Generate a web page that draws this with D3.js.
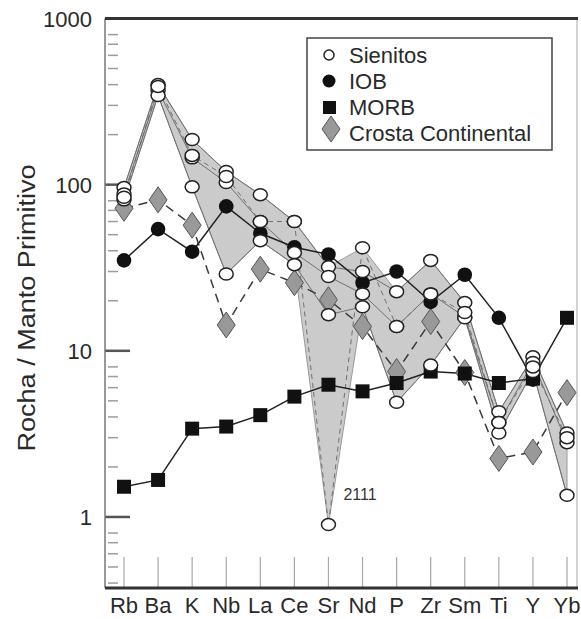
<!DOCTYPE html>
<html>
<head>
<meta charset="utf-8">
<script src="https://cdn.jsdelivr.net/npm/d3@7/dist/d3.min.js"></script>
<style>
    body { margin: 0; background: #fff; }
    svg { display: block; font-family: "Liberation Sans", Arial, sans-serif; }
</style>
</head>
<body>
<div class="spider"></div>
<script>
// ----- DATA ------------------------------------------------------------
const elements = ["Rb", "Ba", "K", "Nb", "La", "Ce", "Sr", "Nd", "P", "Zr", "Sm", "Ti", "Y", "Yb"];

// sienito samples (open circles, grey envelope)
const sienitoA    = [96, 400, 187, 120, 87, 60, 32, 30, 22.7, 35, 19.5, 4.3, 9.2, 3.2];
const sienitoB    = [88, 370, 145, 103, 60, 39, 28, 22, 14, 22, 16, 3.7, 8.5, 2.8];
const sienitoC    = [81, 344, 97, 29, 46, 33, 16.5, 18.4, 4.9, 8.2, 15.8, 3.2, 7.5, 1.35];
const sienito2111 = [84, 390, 150, 112, 60, 60, 0.9, 41.7, 14, 22, 17, 3.7, 8, 3];

const iob    = [35, 54, 39.5, 74, 51, 42, 38, 25.7, 30, 19.7, 28.7, 15.8, 6.7, null];
const morb   = [1.52, 1.67, 3.4, 3.5, 4.1, 5.3, 6.25, 5.7, 6.4, 7.5, 7.3, 6.4, 6.8, 15.8];
const crosta = [72, 81, 57, 14.3, 31, 25.7, 20.3, 14, 7.5, 15, 7.4, 2.25, 2.46, 5.6];

const yTickValues = [1, 10, 100, 1000];
const yMinorValues = [0.4, 0.5, 0.6, 0.7, 0.8,
                      2, 3, 4, 5, 6, 7, 8,
                      20, 30, 40, 50, 60, 70, 80,
                      200, 300, 400, 500, 600, 700, 800];

const legendItems = ["Sienitos", "IOB", "MORB", "Crosta Continental"];

// ----- CHART -----------------------------------------------------------
function drawSpider()
{
    const width = 581, height = 619;
    const plot = { left: 105, right: 577, top: 18.5, bottom: 588 };

    const svg = d3.select(".spider").append("svg")
        .attr("width", width)
        .attr("height", height);

    const x = d3.scalePoint()
        .domain(elements)
        .range([124, 567]);

    const y = d3.scaleLog()
        .domain([0.3736, 1000])
        .range([plot.bottom, plot.top]);

    const samples = [sienitoA, sienitoB, sienitoC, sienito2111];

    // envelope of sienitos
    const envelope = elements.map((e, i) => ({
        name: e,
        lo: d3.min(samples, s => s[i]),
        hi: d3.max(samples, s => s[i])
    }));

    svg.append("path")
        .datum(envelope)
        .attr("fill", "#cbcbcb")
        .attr("stroke", "#9a9a9a")
        .attr("stroke-width", 1)
        .attr("d", d3.area()
            .x(d => x(d.name))
            .y0(d => y(d.lo))
            .y1(d => y(d.hi)));

    // category tick lines at the bottom
    svg.append("g")
        .selectAll("line")
        .data(elements)
        .enter()
            .append("line")
            .attr("x1", d => x(d))
            .attr("x2", d => x(d))
            .attr("y1", plot.bottom - 31)
            .attr("y2", plot.bottom)
            .attr("stroke", "#a8a8a8")
            .attr("stroke-width", 1.2);

    // y minor + major ticks
    svg.append("g")
        .selectAll("line")
        .data(yMinorValues)
        .enter()
            .append("line")
            .attr("x1", plot.left + 3)
            .attr("x2", plot.left + 13)
            .attr("y1", d => y(d))
            .attr("y2", d => y(d))
            .attr("stroke", "#9c9c9c")
            .attr("stroke-width", 1.5);

    svg.append("g")
        .selectAll("line")
        .data(yTickValues)
        .enter()
            .append("line")
            .attr("x1", plot.left)
            .attr("x2", plot.left + 25)
            .attr("y1", d => y(d))
            .attr("y2", d => y(d))
            .attr("stroke", "#555")
            .attr("stroke-width", 2.5);

    svg.append("g")
        .selectAll("text")
        .data(yTickValues)
        .enter()
            .append("text")
            .attr("x", 92)
            .attr("y", d => y(d) + 8)
            .attr("text-anchor", "end")
            .attr("font-size", 22)
            .attr("fill", "#2a2a2a")
            .text(d => d);

    // frame
    svg.append("line")
        .attr("x1", plot.left).attr("x2", plot.left)
        .attr("y1", plot.top).attr("y2", plot.bottom)
        .attr("stroke", "#777").attr("stroke-width", 1.5);
    svg.append("line")
        .attr("x1", plot.right).attr("x2", plot.right)
        .attr("y1", plot.top).attr("y2", plot.bottom)
        .attr("stroke", "#c4c4c4").attr("stroke-width", 1.5);
    svg.append("line")
        .attr("x1", plot.left).attr("x2", plot.right + 1)
        .attr("y1", plot.top).attr("y2", plot.top)
        .attr("stroke", "#333").attr("stroke-width", 3);
    svg.append("line")
        .attr("x1", plot.left).attr("x2", plot.right + 1)
        .attr("y1", plot.bottom).attr("y2", plot.bottom)
        .attr("stroke", "#333").attr("stroke-width", 3);

    // x labels
    svg.append("g")
        .selectAll("text")
        .data(elements)
        .enter()
            .append("text")
            .attr("x", d => x(d))
            .attr("y", 613)
            .attr("text-anchor", "middle")
            .attr("font-size", 22)
            .attr("fill", "#2a2a2a")
            .text(d => d);

    // y axis title
    svg.append("text")
        .attr("transform", "translate(35," + 308 + ") rotate(-90)")
        .attr("text-anchor", "middle")
        .attr("font-size", 23)
        .attr("fill", "#2a2a2a")
        .attr("textLength", 287)
        .attr("lengthAdjust", "spacingAndGlyphs")
        .text("Rocha / Manto Primitivo");

    const line = d3.line()
        .defined(d => d.v !== null)
        .x(d => x(d.name))
        .y(d => y(d.v));

    const toPoints = arr => elements.map((e, i) => ({ name: e, v: arr[i] }));

    // sienito sample lines
    samples.forEach(s => {
        svg.append("path")
            .datum(toPoints(s))
            .attr("fill", "none")
            .attr("stroke", "#707070")
            .attr("stroke-width", 1)
            .attr("stroke-dasharray", s === sienito2111 ? "5,4" : null)
            .attr("d", line);
    });

    // "2111" label
    svg.append("text")
        .attr("x", x("Sr") + 15)
        .attr("y", y(0.9) - 25)
        .attr("font-size", 16)
        .attr("fill", "#333")
        .text("2111");

    // crosta continental
    svg.append("path")
        .datum(toPoints(crosta))
        .attr("fill", "none")
        .attr("stroke", "#3a3a3a")
        .attr("stroke-width", 1.5)
        .attr("stroke-dasharray", "9,6")
        .attr("d", line);

    // morb
    svg.append("path")
        .datum(toPoints(morb))
        .attr("fill", "none")
        .attr("stroke", "#222")
        .attr("stroke-width", 1.5)
        .attr("d", line);

    // iob
    svg.append("path")
        .datum(toPoints(iob))
        .attr("fill", "none")
        .attr("stroke", "#222")
        .attr("stroke-width", 1.5)
        .attr("d", line);

    const diamond = (cx, cy) =>
        "M" + cx + "," + (cy - 13) + " L" + (cx + 9) + "," + cy +
        " L" + cx + "," + (cy + 13) + " L" + (cx - 9) + "," + cy + "Z";

    svg.append("g")
        .selectAll("path")
        .data(toPoints(crosta))
        .enter()
            .append("path")
            .attr("d", d => diamond(x(d.name), y(d.v)))
            .attr("fill", "#999")
            .attr("stroke", "#555")
            .attr("stroke-width", 1);

    svg.append("g")
        .selectAll("rect")
        .data(toPoints(morb))
        .enter()
            .append("rect")
            .attr("x", d => x(d.name) - 7)
            .attr("y", d => y(d.v) - 7)
            .attr("width", 14)
            .attr("height", 14)
            .attr("fill", "#111");

    svg.append("g")
        .selectAll("circle")
        .data(toPoints(iob).filter(d => d.v !== null))
        .enter()
            .append("circle")
            .attr("cx", d => x(d.name))
            .attr("cy", d => y(d.v))
            .attr("r", 7.3)
            .attr("fill", "#111");

    // sienito circles
    samples.forEach(s => {
        svg.append("g")
            .selectAll("ellipse")
            .data(toPoints(s))
            .enter()
                .append("ellipse")
                .attr("cx", d => x(d.name))
                .attr("cy", d => y(d.v))
                .attr("rx", 7)
                .attr("ry", 6)
                .attr("fill", "#fff")
                .attr("stroke", "#222")
                .attr("stroke-width", 1.5);
    });

    // ----- legend -----
    const legend = svg.append("g")
        .attr("transform", "translate(307,38)");

    legend.append("rect")
        .attr("width", 245)
        .attr("height", 112)
        .attr("fill", "#fff")
        .attr("stroke", "#444")
        .attr("stroke-width", 1.5);

    legend.selectAll("text")
        .data(legendItems)
        .enter()
            .append("text")
            .attr("x", 42)
            .attr("y", (d, i) => 25 + i * 26)
            .attr("font-size", 22)
            .attr("fill", "#2a2a2a")
            .text(d => d);

    legend.append("circle")
        .attr("cx", 22).attr("cy", 17).attr("r", 5)
        .attr("fill", "#fff").attr("stroke", "#222").attr("stroke-width", 1.5);
    legend.append("circle")
        .attr("cx", 22).attr("cy", 43).attr("r", 6.5)
        .attr("fill", "#111");
    legend.append("rect")
        .attr("x", 16).attr("y", 63).attr("width", 13).attr("height", 13)
        .attr("fill", "#111");
    legend.append("path")
        .attr("d", diamond(24, 91))
        .attr("fill", "#999").attr("stroke", "#555").attr("stroke-width", 1);
}

drawSpider();
</script>
</body>
</html>
